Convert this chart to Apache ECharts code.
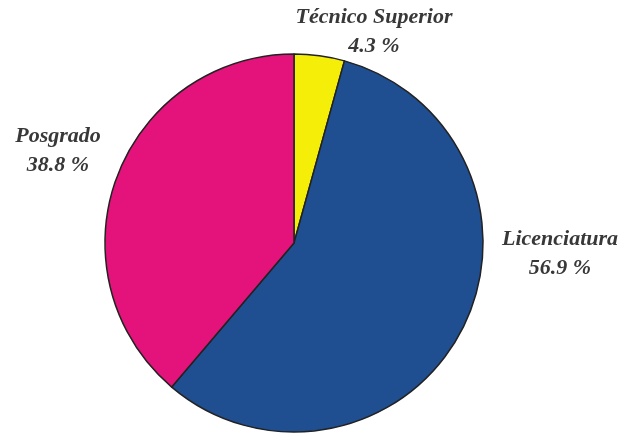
<!DOCTYPE html>
<html>
<head>
<meta charset="utf-8">
<script src="https://cdn.jsdelivr.net/npm/echarts@6/dist/echarts.min.js"></script>
<style>
  html, body { margin: 0; padding: 0; background: #fff; }
  #chart { width: 621px; height: 440px; }
</style>
</head>
<body>
<div id="chart"></div>
<script>
var categories = ['Técnico Superior', 'Licenciatura', 'Posgrado'];
var percents = [4.3, 56.9, 38.8];
var colors = ['#f4ee08', '#1f4e91', '#e4137b'];

// where each label sits (centre of text block)
var labelSpots = [[374, 32], [560, 254], [58, 151]];

var myChart = echarts.init(document.getElementById('chart'));
myChart.setOption({
  backgroundColor: '#fff',
  animation: false,
  series: [{
    type: 'pie',
    center: [294, 243],
    radius: 189,
    startAngle: 90,
    clockwise: true,
    data: categories.map(function (c, i) {
      return { name: c, value: percents[i], itemStyle: { color: colors[i] } };
    }),
    itemStyle: { borderColor: '#222', borderWidth: 1.5 },
    label: {
      show: true,
      position: 'outside',
      formatter: function (p) { return p.name + '\n' + p.value.toFixed(1) + ' %'; },
      fontFamily: 'Liberation Serif',
      fontStyle: 'italic',
      fontWeight: 'bold',
      fontSize: 22,
      lineHeight: 29,
      color: '#383838',
      align: 'center',
      overflow: 'none',
      width: 200
    },
    labelLine: { show: false },
    labelLayout: function (params) {
      var s = labelSpots[params.dataIndex];
      return { x: s[0], y: s[1], align: 'center', verticalAlign: 'middle' };
    }
  }]
});
</script>
</body>
</html>
